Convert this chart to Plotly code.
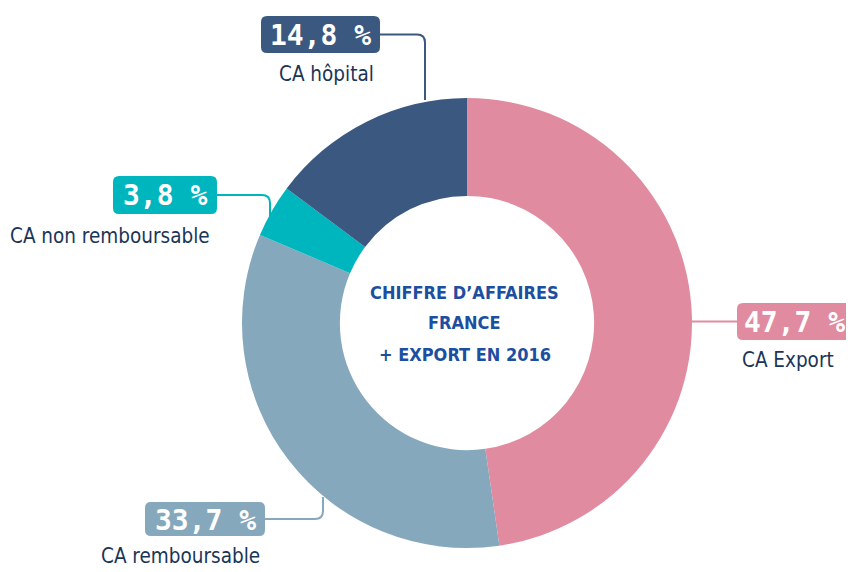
import plotly.graph_objects as go

W, H = 854, 572
OFF = 8  # default page body margin
FW, FH = W - OFF, H - OFF

# Data
categories = ["CA Export", "CA remboursable", "CA non remboursable", "CA hôpital"]
values = [47.7, 33.7, 3.8, 14.8]
value_labels = ["47,7 %", "33,7 %", "3,8 %", "14,8 %"]
colors = ["#E08BA0", "#86A8BC", "#00B6BE", "#3B5980"]
center_title = ["CHIFFRE D’AFFAIRES", "FRANCE", "+ EXPORT EN 2016"]


def px(x):
    return (x - OFF) / FW


def py(y):
    return 1 - (y - OFF) / FH


def pt(x, y):
    return f"{px(x):.5f},{py(y):.5f}"


def rounded_rect(x0, y0, x1, y1, r):
    return (f"M {pt(x0 + r, y0)} L {pt(x1 - r, y0)} Q {pt(x1, y0)} {pt(x1, y0 + r)} "
            f"L {pt(x1, y1 - r)} Q {pt(x1, y1)} {pt(x1 - r, y1)} "
            f"L {pt(x0 + r, y1)} Q {pt(x0, y1)} {pt(x0, y1 - r)} "
            f"L {pt(x0, y0 + r)} Q {pt(x0, y0)} {pt(x0 + r, y0)} Z")


cx, cy, R = 467, 323, 225

fig = go.Figure(go.Pie(
    labels=categories,
    values=values,
    marker=dict(colors=colors, line=dict(width=0)),
    hole=0.565,
    sort=False,
    direction="clockwise",
    rotation=0,
    textinfo="none",
    hoverinfo="label+percent",
    showlegend=False,
    domain=dict(x=[px(cx - R), px(cx + R)], y=[py(cy + R), py(cy - R)]),
))

label_layout = {
    "CA hôpital": dict(box=(261, 16, 380, 53), name_xy=(326, 74),
                       leader=[(380, 34.5), (425, 34.5), (425, 100)]),
    "CA non remboursable": dict(box=(113, 176, 217, 214), name_xy=(110, 236),
                                leader=[(217, 195), (270, 195), (270, 216)]),
    "CA Export": dict(box=(737, 303, 852, 340), name_xy=(788, 360),
                      leader=[(690, 321.5), (737, 321.5)]),
    "CA remboursable": dict(box=(145, 502, 265, 536), name_xy=(180, 556),
                            leader=[(265, 519), (323, 519), (323, 497)]),
}

shapes = []
annotations = []
mono = "DejaVu Sans Mono, Liberation Mono, monospace"
narrow = "DejaVu Sans Condensed, Liberation Sans Narrow, Roboto, sans-serif"

for cat, lab, col in zip(categories, value_labels, colors):
    L = label_layout[cat]
    x0, y0, x1, y1 = L["box"]
    shapes.append(dict(type="path", xref="paper", yref="paper",
                       path=rounded_rect(x0, y0, x1, y1, 6),
                       fillcolor=col, line=dict(width=0), layer="above"))
    pts = L["leader"]
    if len(pts) == 3:
        (ax, ay), (bx, by), (ex, ey) = pts
        rr = 8
        sx = 1 if bx > ax else -1
        sy = 1 if ey > by else -1
        path = (f"M {pt(ax, ay)} L {pt(bx - sx * rr, by)} Q {pt(bx, by)} {pt(bx, by + sy * rr)} "
                f"L {pt(ex, ey)}")
    else:
        (ax, ay), (bx, by) = pts
        path = f"M {pt(ax, ay)} L {pt(bx, by)}"
    shapes.append(dict(type="path", xref="paper", yref="paper", path=path,
                       line=dict(color=col, width=2), layer="below"))
    annotations.append(dict(x=px((x0 + x1) / 2), y=py((y0 + y1) / 2 + 1), xref="paper", yref="paper",
                            text=f"<b>{lab}</b>", showarrow=False,
                            font=dict(family=mono, size=28, color="white"),
                            xanchor="center", yanchor="middle"))
    nx, ny = L["name_xy"]
    annotations.append(dict(x=px(nx), y=py(ny), xref="paper", yref="paper",
                            text=cat, showarrow=False,
                            font=dict(family=narrow, size=20.5, color="#1B3557"),
                            xanchor="center", yanchor="middle"))

for i, t in enumerate(center_title):
    annotations.append(dict(x=px(465), y=py(292 + 31 * i), xref="paper", yref="paper",
                            text=f"<b>{t}</b>", showarrow=False, align="center",
                            font=dict(family=narrow, size=18, color="#1D4FA0"),
                            xanchor="center", yanchor="middle"))

fig.update_layout(
    width=FW, height=FH,
    margin=dict(l=0, r=0, t=0, b=0),
    paper_bgcolor="white", plot_bgcolor="white",
    shapes=shapes, annotations=annotations,
)

fig.write_html("out.html")
